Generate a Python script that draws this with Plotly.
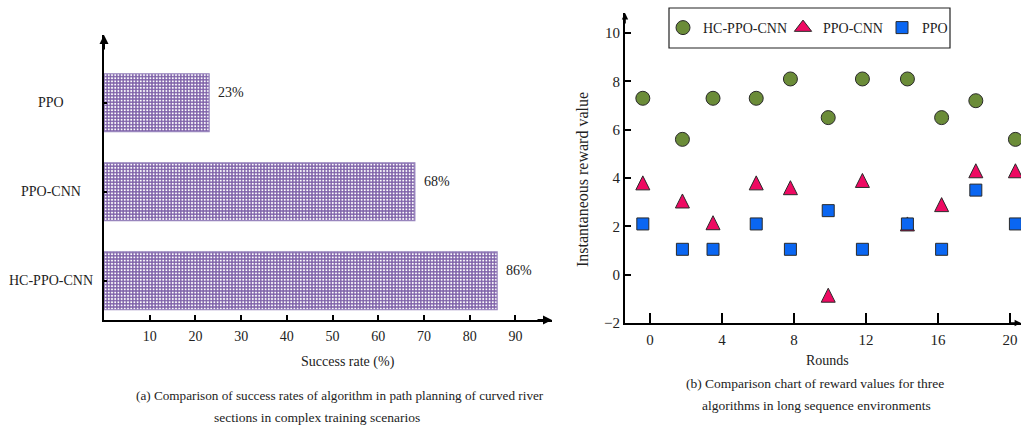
import plotly.graph_objects as go

W, H = 1021, 429
SERIF = "Liberation Serif, Times New Roman, serif"

# ---- (a) success rates ----
algos = ["HC-PPO-CNN", "PPO-CNN", "PPO"]
success_rate = [86, 68, 23]
rate_ticks = [10, 20, 30, 40, 50, 60, 70, 80, 90]

# ---- (b) instantaneous reward per round ----
rounds = [-0.4, 1.8, 3.5, 5.9, 7.8, 9.9, 11.8, 14.3, 16.2, 18.1, 20.3]
reward_hc_ppo_cnn = [7.3, 5.6, 7.3, 7.3, 8.1, 6.5, 8.1, 8.1, 6.5, 7.2, 5.6]
reward_ppo_cnn = [3.8, 3.05, 2.15, 3.8, 3.6, -0.85, 3.9, 2.1, 2.9, 4.3, 4.3]
reward_ppo = [2.1, 1.05, 1.05, 2.1, 1.05, 2.65, 1.05, 2.1, 1.05, 3.5, 2.1]
round_ticks = [0, 4, 8, 12, 16, 20]
reward_ticks = [-2, 0, 2, 4, 6, 8, 10]


def px(x):
    return x / W


def py(y):
    return 1 - y / H


fig = go.Figure()

fig.add_trace(go.Bar(
    x=success_rate, y=algos, orientation="h", width=0.65,
    marker=dict(
        color="#7f62a9",
        line=dict(color="#9885bd", width=1.2),
        pattern=dict(shape=".", fgcolor="white", bgcolor="#7f62a9",
                     size=3.2, solidity=0.32, fillmode="replace"),
    ),
    showlegend=False, xaxis="x", yaxis="y",
))

C_HC, C_PC, C_P = "#6b8c38", "#ee0a62", "#0a66f2"
marker_line = dict(color="#2a2a2a", width=1)

fig.add_trace(go.Scatter(
    x=rounds, y=reward_hc_ppo_cnn, mode="markers", name="HC-PPO-CNN",
    marker=dict(symbol="circle", size=14, color=C_HC, line=marker_line),
    xaxis="x2", yaxis="y2", legend="legend",
))
# upward triangles centred on each point
fig.add_trace(go.Scatter(
    x=rounds, y=reward_ppo_cnn, mode="markers", name="PPO-CNN",
    marker=dict(symbol="arrow-down", angle=180, standoff=7, size=14,
                color=C_PC, line=marker_line),
    xaxis="x2", yaxis="y2", showlegend=False, legendgroup="pc",
))
# legend key for the triangles
fig.add_trace(go.Scatter(
    x=[None], y=[None], mode="markers", name="PPO-CNN",
    marker=dict(symbol="triangle-up", size=15, color=C_PC, line=marker_line),
    xaxis="x2", yaxis="y2", legend="legend2", legendgroup="pc",
))
fig.add_trace(go.Scatter(
    x=rounds, y=reward_ppo, mode="markers", name="PPO",
    marker=dict(symbol="square", size=12, color=C_P, line=marker_line),
    xaxis="x2", yaxis="y2", legend="legend3",
))

axis_common = dict(showgrid=False, zeroline=False, showline=True,
                   linecolor="black", linewidth=2, ticks="inside",
                   tickcolor="black", automargin=False,
                   tickfont=dict(family=SERIF, size=14, color="#222"))

legend_common = dict(orientation="h", y=py(28), xanchor="left",
                     yanchor="middle", bgcolor="rgba(0,0,0,0)",
                     borderwidth=0,
                     font=dict(family=SERIF, size=14, color="#222"))

fig.update_layout(
    width=W, height=H,
    margin=dict(l=0, r=0, t=0, b=0, pad=0, autoexpand=False),
    paper_bgcolor="white", plot_bgcolor="white",
    font=dict(family=SERIF, size=14, color="#222"),
    xaxis=dict(axis_common, domain=[px(104), px(552)], range=[0, 98],
               tickvals=rate_ticks, ticklen=5, tickwidth=1.5,
               anchor="y", ticklabelstandoff=2),
    yaxis=dict(axis_common, domain=[py(320), py(35)], range=[-0.44, 2.76],
               type="category", categoryorder="array", categoryarray=algos,
               showticklabels=False, ticklen=3, tickwidth=1.5, anchor="x"),
    xaxis2=dict(axis_common, domain=[px(625), 1.0], range=[-1.39, 20.61],
                tickvals=round_ticks, ticklen=10, tickwidth=1.5, anchor="y2",
                tickfont=dict(family=SERIF, size=15, color="#222"),
                ticklabelstandoff=2),
    yaxis2=dict(axis_common, domain=[py(323), py(13)], range=[-2, 10.83],
                tickvals=reward_ticks, ticklen=6, tickwidth=1.5, anchor="x2",
                tickfont=dict(family=SERIF, size=15, color="#222")),
    legend=dict(legend_common, x=px(663)),
    legend2=dict(legend_common, x=px(783)),
    legend3=dict(legend_common, x=px(882)),
)

# legend frame
fig.add_shape(type="rect", xref="paper", yref="paper",
              x0=px(669), x1=px(950), y0=py(48), y1=py(8),
              line=dict(color="#222", width=1.2), fillcolor="rgba(0,0,0,0)")

ann = []
TXT = dict(family=SERIF, size=14, color="#222")


def label(x, y, text, font=TXT, **kw):
    d = dict(x=x, y=y, xref="paper", yref="paper", text=text,
             showarrow=False, xanchor="center", yanchor="middle", font=font)
    d.update(kw)
    return d


# category names, centred left of the bars
for a in algos:
    ann.append(dict(x=px(51), xref="paper", y=a, yref="y", text=a,
                    showarrow=False, xanchor="center", yanchor="middle",
                    font=TXT))
# value labels at the bar ends
for a, v in zip(algos, success_rate):
    ann.append(dict(x=v, xref="x", y=a, yref="y", text=f"{v}%",
                    showarrow=False, xanchor="left", yanchor="middle",
                    xshift=7, yshift=10, font=TXT))


# axis arrowheads
def arrow(xref, yref, x, y, ax, ay, w, s):
    return dict(x=x, y=y, xref=xref, yref=yref, ax=ax, ay=ay, text="",
                showarrow=True, arrowhead=2, arrowwidth=w, arrowsize=s,
                arrowcolor="black")


ann.append(arrow("x domain", "y domain", 0, 1, 0, 16, 2, 0.9))
ann.append(arrow("x domain", "y domain", 1, 0, -16, 0, 2, 0.9))
ann.append(arrow("x2 domain", "y2 domain", 0, 1, 0, 12, 1.6, 0.8))
ann.append(arrow("x2 domain", "y2 domain", 1, 0, -12, 0, 1.6, 0.8))

# axis titles
ann.append(label(px(348), py(362), "Success rate (%)"))
ann.append(label(px(827), py(360), "Rounds"))
ann.append(label(px(582), py(180), "Instantaneous reward value",
                 font=dict(family=SERIF, size=16, color="#222"),
                 textangle=-90))

# captions
cap = dict(family=SERIF, size=13.5, color="#222")
ann.append(label(px(340), py(395),
                 "(a) Comparison of success rates of algorithm in path planning of curved river",
                 font=dict(family=SERIF, size=13.2, color="#222")))
ann.append(label(px(317), py(417), "sections in complex training scenarios",
                 font=cap))
ann.append(label(px(815), py(383),
                 "(b) Comparison chart of reward values for three", font=cap))
ann.append(label(px(816), py(405),
                 "algorithms in long sequence environments", font=cap))

fig.update_layout(annotations=ann)
fig.write_html("out.html")
